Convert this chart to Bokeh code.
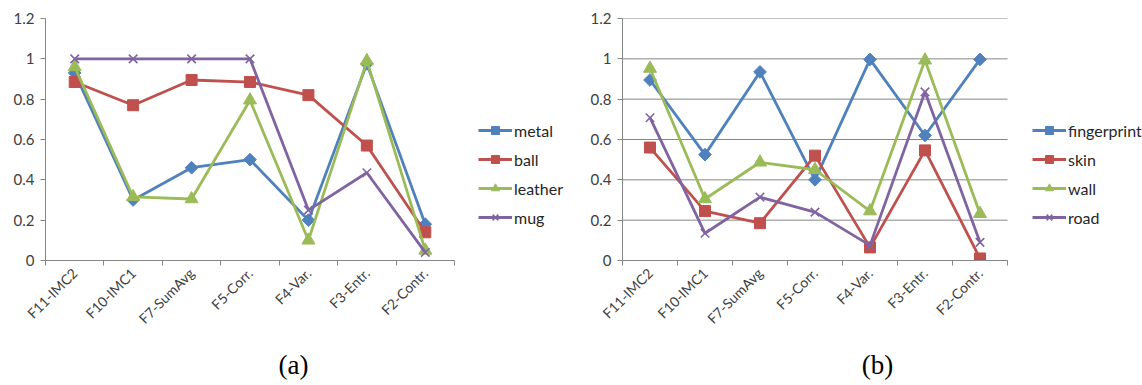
from math import pi
import numpy as np
from bokeh.plotting import figure
from bokeh.layouts import row, column
from bokeh.models import FixedTicker, Legend, LegendItem, Range1d, Label
from bokeh.embed import file_html
from bokeh.resources import INLINE

features = ["F11-IMC2", "F10-IMC1", "F7-SumAvg", "F5-Corr.", "F4-Var.", "F3-Entr.", "F2-Contr."]
y_ticks = [0, 0.2, 0.4, 0.6, 0.8, 1.0, 1.2]
y_tick_labels = ["0", "0.2", "0.4", "0.6", "0.8", "1", "1.2"]

# chart (a)
names_a = ["metal", "ball", "leather", "mug"]
metal = [0.93, 0.30, 0.46, 0.50, 0.20, 0.975, 0.18]
ball = [0.885, 0.77, 0.895, 0.885, 0.82, 0.57, 0.14]
leather = [0.96, 0.315, 0.305, 0.795, 0.10, 0.99, 0.05]
mug = [1.0, 1.0, 1.0, 1.0, 0.25, 0.435, 0.04]

# chart (b)
names_b = ["fingerprint", "skin", "wall", "road"]
fingerprint = [0.895, 0.525, 0.935, 0.40, 0.997, 0.62, 0.997]
skin = [0.56, 0.245, 0.185, 0.52, 0.065, 0.546, 0.01]
wall = [0.952, 0.305, 0.487, 0.45, 0.245, 0.993, 0.232]
road = [0.708, 0.135, 0.314, 0.24, 0.075, 0.836, 0.09]

colors = ["#4F81BD", "#C0504D", "#9BBB59", "#8064A2"]
markers = [("square", 9, pi / 4), ("square", 11, 0), ("triangle", 13, 0), ("x", 12, 0)]

FONT = "Lato"
TXT = "#404040"
AXC = "#868686"
CHART_H = 345
CAP_H = 40


def make_chart(names, series, width, bl, plot_w, legend_x, grid):
    bt = 18
    frame_h = 242
    n = len(features)
    frame_full = width - bl
    x_end = n * frame_full / plot_w  # frame also hosts the legend area to the right
    p = figure(width=width, height=CHART_H, output_backend="svg", toolbar_location=None,
               x_range=Range1d(0, x_end), y_range=Range1d(0, 1.2),
               min_border_left=bl, min_border_right=0,
               min_border_top=bt, min_border_bottom=CHART_H - bt - frame_h)
    p.outline_line_color = None
    p.background_fill_color = "white"
    p.border_fill_color = "white"
    x = list(np.arange(n) + 0.5)

    p.xgrid.grid_line_color = None
    p.ygrid.grid_line_color = None
    if grid:
        p.segment(x0=[0] * len(y_ticks), x1=[n] * len(y_ticks), y0=y_ticks, y1=y_ticks,
                  line_color=AXC, line_width=1)

    items = []
    for name, vals, col, (mk, sz, ang) in zip(names, series, colors, markers):
        r1 = p.line(x, vals, line_color=col, line_width=2.8)
        if mk == "x":
            r2 = p.scatter(x, vals, marker=mk, size=sz, line_color=col, line_width=1.6)
        else:
            r2 = p.scatter(x, vals, marker=mk, size=sz, angle=ang,
                           fill_color=col, line_color=col, line_width=1)
        items.append(LegendItem(label=name, renderers=[r1, r2]))

    # x axis
    xa = p.xaxis[0]
    xa.bounds = (0, n)
    xa.ticker = FixedTicker(ticks=x, minor_ticks=list(range(n + 1)))
    xa.major_label_overrides = {float(v): f for v, f in zip(x, features)}
    xa.major_label_orientation = pi / 4
    xa.major_tick_line_color = None
    xa.minor_tick_line_color = AXC
    xa.minor_tick_out = 5
    xa.minor_tick_in = 0
    xa.axis_line_color = AXC
    xa.major_label_text_font = FONT
    xa.major_label_text_font_size = "14px"
    xa.major_label_text_color = TXT
    xa.major_label_standoff = 4

    # y axis
    ya = p.yaxis[0]
    ya.ticker = FixedTicker(ticks=y_ticks)
    ya.major_label_overrides = {v: t for v, t in zip(y_ticks, y_tick_labels)}
    ya.minor_tick_line_color = None
    ya.major_tick_line_color = AXC
    ya.major_tick_out = 5
    ya.major_tick_in = 0
    ya.axis_line_color = AXC
    ya.major_label_text_font = FONT
    ya.major_label_text_font_size = "15px"
    ya.major_label_text_color = TXT
    ya.major_label_standoff = 6

    legend = Legend(items=items, location=(legend_x, 33),
                    glyph_width=34, glyph_height=20, label_height=20, spacing=9,
                    padding=0, margin=0, border_line_color=None,
                    background_fill_alpha=0, label_standoff=2,
                    label_text_font=FONT, label_text_font_size="16px",
                    label_text_color="#262626")
    p.add_layout(legend, "center")
    return p


def make_caption(text, width, cx):
    c = figure(width=width, height=CAP_H, output_backend="svg", toolbar_location=None,
               x_axis_type=None, y_axis_type=None,
               x_range=Range1d(0, 1), y_range=Range1d(0, 1), min_border=0)
    c.outline_line_color = None
    c.xgrid.grid_line_color = None
    c.ygrid.grid_line_color = None
    c.add_layout(Label(x=cx, y=CAP_H - 19, x_units="screen", y_units="screen", text=text,
                       text_font="Liberation Serif", text_font_size="27px",
                       text_align="center", text_baseline="middle", text_color="black"))
    return c


pa = make_chart(names_a, [metal, ball, leather, mug], 570, 45, 409, 433, False)
pb = make_chart(names_b, [fingerprint, skin, wall, road], 572, 52, 385, 410, True)
# caption frames are aligned with the chart frames above them (left edges 45 and 52)
ca = make_caption("(a)", 570, 248)
cb = make_caption("(b)", 572, 255)

layout = row(column(pa, ca), column(pb, cb))
open("out.html", "w").write(file_html(layout, INLINE))
